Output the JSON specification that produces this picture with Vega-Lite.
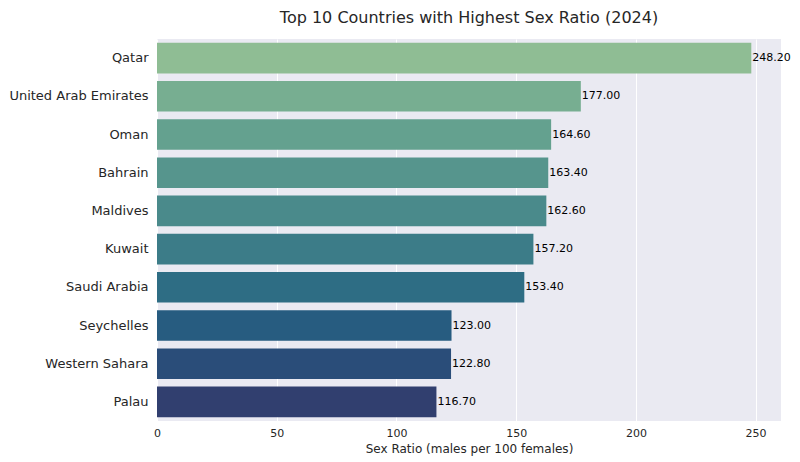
{
  "$schema": "https://vega.github.io/schema/vega-lite/v6.json",
  "width": 624,
  "height": 382,
  "autosize": {"type": "none"},
  "padding": {"left": 157, "top": 39, "right": 19, "bottom": 41},
  "background": "white",
  "config": {
    "font": "DejaVu Sans",
    "view": {"fill": "#eaeaf2", "stroke": null},
    "axis": {"domain": false, "ticks": false, "gridColor": "white", "gridWidth": 1, "labelColor": "#262626", "titleColor": "#262626", "labelFont": "DejaVu Sans", "titleFont": "DejaVu Sans", "titleFontWeight": "normal"}
  },
  "title": {"text": "Top 10 Countries with Highest Sex Ratio (2024)", "fontSize": 16, "fontWeight": "normal", "color": "#262626", "font": "DejaVu Sans", "offset": 13, "anchor": "middle"},
  "data": {"values": [
    {"country": "Qatar", "ratio": 248.2, "color": "#8fbd94"},
    {"country": "United Arab Emirates", "ratio": 177.0, "color": "#77ae91"},
    {"country": "Oman", "ratio": 164.6, "color": "#64a18f"},
    {"country": "Bahrain", "ratio": 163.4, "color": "#56958d"},
    {"country": "Maldives", "ratio": 162.6, "color": "#4a8a8b"},
    {"country": "Kuwait", "ratio": 157.2, "color": "#3c7c88"},
    {"country": "Saudi Arabia", "ratio": 153.4, "color": "#2e6d84"},
    {"country": "Seychelles", "ratio": 123.0, "color": "#275c80"},
    {"country": "Western Sahara", "ratio": 122.8, "color": "#2a4d79"},
    {"country": "Palau", "ratio": 116.7, "color": "#313f6f"}
  ]},
  "encoding": {
    "y": {"field": "country", "type": "nominal", "sort": null, "title": null,
      "scale": {"paddingInner": 0.2, "paddingOuter": 0.1},
      "axis": {"grid": false, "labelFontSize": 13, "labelPadding": 9}},
    "x": {"field": "ratio", "type": "quantitative", "title": "Sex Ratio (males per 100 females)",
      "scale": {"domain": [0, 260.6], "nice": false, "zero": true},
      "axis": {"values": [0, 50, 100, 150, 200, 250], "labelFontSize": 11, "titleFontSize": 12, "labelPadding": 6, "titlePadding": 5, "grid": true, "labelFlush": false}}
  },
  "layer": [
    {"mark": {"type": "bar"}, "encoding": {"color": {"field": "color", "type": "nominal", "scale": null}}},
    {"mark": {"type": "text", "align": "left", "baseline": "middle", "dx": 1, "fontSize": 11, "color": "black"},
     "encoding": {"text": {"field": "ratio", "type": "quantitative", "format": ".2f"}}}
  ]
}
